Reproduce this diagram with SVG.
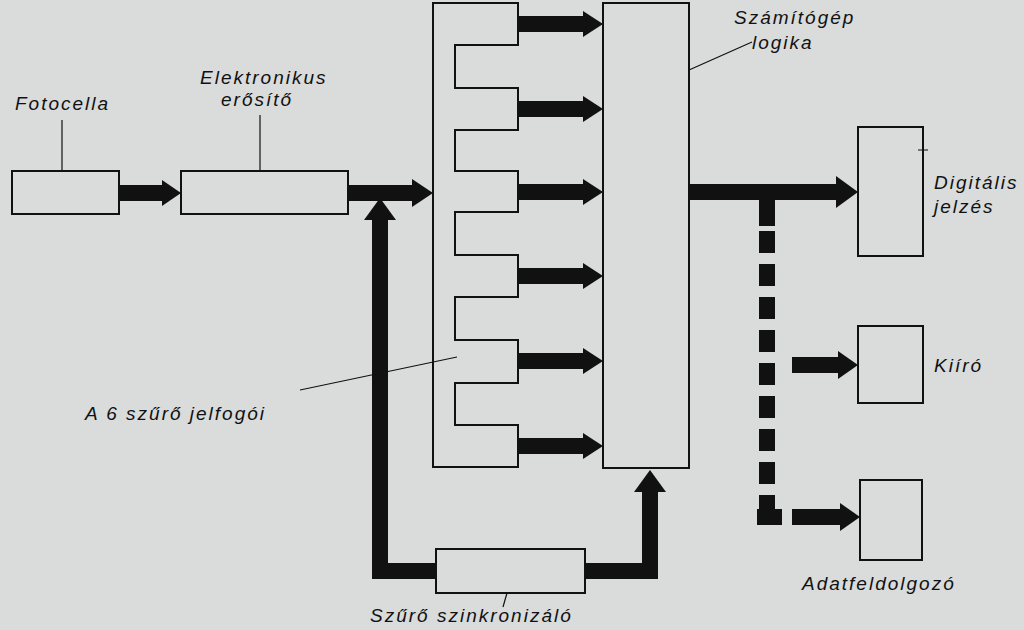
<svg xmlns="http://www.w3.org/2000/svg" width="1024" height="630" viewBox="0 0 1024 630">
<style>
.b{fill:none;stroke:#111;stroke-width:2}
.t{font-family:"Liberation Sans",sans-serif;font-style:italic;font-size:19px;letter-spacing:2px;fill:#111}
.l{stroke:#111;stroke-width:1.2;fill:none}
.w{stroke:#111;stroke-width:16;fill:none}
.h{fill:#111}
</style>
<rect width="1024" height="630" fill="#d9dcdb"/>
<g id="connectors">
<path class="w" d="M119 193H164"/><polygon class="h" points="162,180 181,193 162,206"/>
<path class="w" d="M348 193H414"/><polygon class="h" points="412,179 433,193 412,207"/>
<path class="w" d="M518 24H585M518 109H585M518 192H585M518 276H585M518 361H585M518 446H585"/>
<polygon class="h" points="583,11 603,24 583,37"/><polygon class="h" points="583,96 603,109 583,122"/><polygon class="h" points="583,179 603,192 583,205"/><polygon class="h" points="583,263 603,276 583,289"/><polygon class="h" points="583,348 603,361 583,374"/><polygon class="h" points="583,433 603,446 583,459"/>
<path class="w" d="M689 192H838"/><polygon class="h" points="836,176 858,192 836,208"/>
<path class="w" d="M767 192V226"/>
<path class="w" stroke-width="20" stroke-dasharray="22,11" d="M767 231V520"/>
<path class="w" d="M757 517H782"/>
<path class="w" d="M792 517H842"/><polygon class="h" points="840,503 860,517 840,531"/>
<path class="w" d="M792 365H840"/><polygon class="h" points="838,351 858,365 838,379"/>
<path class="w" stroke-width="18" d="M436 571H380V218"/><polygon class="h" points="364,220 380,198 396,220"/>
<path class="w" stroke-width="18" d="M585 571H650V490"/><polygon class="h" points="634,492 650,470 666,492"/>
<path class="l" d="M62 120V171M260 115V171M689 70L752 42M300 390L457 357M507 593L503 607M918 150H928"/>
</g>
<g id="fotocella"><rect class="b" x="12" y="171" width="107" height="43"/><text class="t" x="15" y="110">Fotocella</text></g>
<g id="erosito"><rect class="b" x="181" y="171" width="167" height="43"/><text class="t" x="200" y="84">Elektronikus</text><text class="t" x="221" y="106">erősítő</text></g>
<g id="jelfogok"><path class="b" d="M433 3H518V45H455V88H518V130H455V171H518V212H455V255H518V297H455V340H518V383H455V425H518V467H433Z"/><text class="t" x="85" y="420">A 6 szűrő jelfogói</text></g>
<g id="logika"><rect class="b" x="603" y="3" width="86" height="465"/><text class="t" x="734" y="24">Számítógép</text><text class="t" x="752" y="49">logika</text></g>
<g id="digitalis"><rect class="b" x="858" y="127" width="65" height="129"/><text class="t" x="934" y="189">Digitális</text><text class="t" x="934" y="213">jelzés</text></g>
<g id="kiiro"><rect class="b" x="858" y="326" width="65" height="77"/><text class="t" x="934" y="372">Kiíró</text></g>
<g id="adat"><rect class="b" x="860" y="480" width="62" height="80"/><text class="t" x="802" y="590">Adatfeldolgozó</text></g>
<g id="szinkron"><rect class="b" x="436" y="549" width="149" height="44"/><text class="t" x="370" y="622">Szűrő szinkronizáló</text></g>
</svg>
